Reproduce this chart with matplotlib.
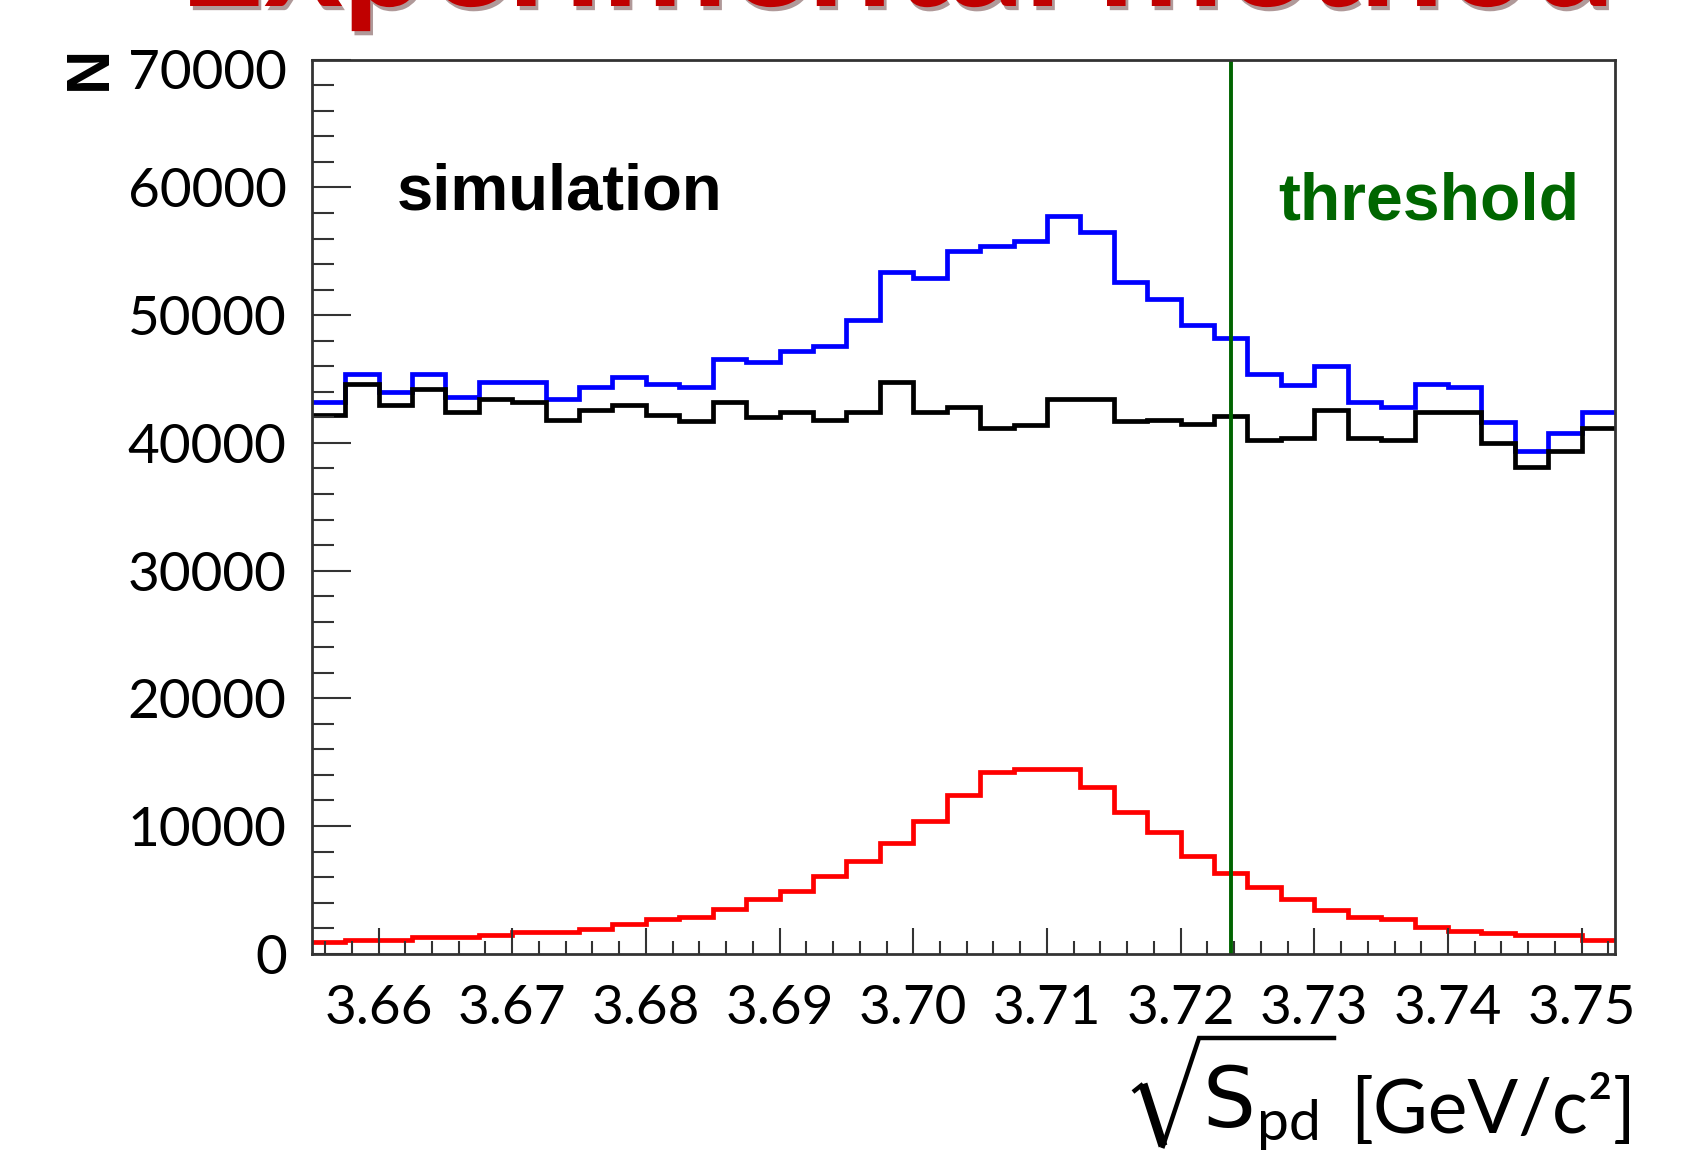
import numpy as np
import matplotlib
matplotlib.use("Agg")
import matplotlib.pyplot as plt
from matplotlib.ticker import MultipleLocator, FormatStrFormatter
from matplotlib.lines import Line2D
from matplotlib.transforms import ScaledTranslation
import matplotlib.patheffects as pe

# plot configuration
plt.rcParams['font.family'] = ['Lato', 'DejaVu Sans']

# histogram binning: sqrt(s_pd) in GeV/c^2
bin_lo = 3.655
bin_width = 0.0025
n_bins = 39

# counts per bin (thousands)
total = [43.2, 45.4, 44.0, 45.4, 43.6, 44.8, 44.8, 43.4, 44.4, 45.2,
         44.6, 44.4, 46.6, 46.3, 47.2, 47.6, 49.6, 53.4, 52.9, 55.0,
         55.4, 55.8, 57.8, 56.5, 52.6, 51.3, 49.2, 48.2, 45.4, 44.5,
         46.0, 43.2, 42.8, 44.6, 44.4, 41.6, 39.4, 40.8, 42.4]
background = [42.2, 44.6, 43.0, 44.2, 42.4, 43.4, 43.2, 41.8, 42.6, 43.0,
              42.2, 41.7, 43.2, 42.0, 42.4, 41.8, 42.4, 44.8, 42.4, 42.8,
              41.2, 41.4, 43.4, 43.4, 41.7, 41.8, 41.5, 42.1, 40.2, 40.4,
              42.6, 40.4, 40.2, 42.4, 42.4, 40.0, 38.1, 39.4, 41.2]
signal = [0.92, 1.1, 1.1, 1.3, 1.3, 1.5, 1.7, 1.7, 1.9, 2.3,
          2.7, 2.9, 3.5, 4.3, 4.9, 6.1, 7.3, 8.7, 10.4, 12.4,
          14.2, 14.5, 14.5, 13.05, 11.1, 9.5, 7.65, 6.3, 5.2, 4.25,
          3.45, 2.9, 2.7, 2.1, 1.8, 1.6, 1.5, 1.5, 1.05]
threshold = 3.7238

edges = bin_lo + bin_width * np.arange(n_bins + 1)
total = np.array(total) * 1000
background = np.array(background) * 1000
signal = np.array(signal) * 1000

W, H = 1684, 1152
fig = plt.figure(figsize=(W / 100, H / 100), dpi=100)
ax = fig.add_axes([0.1851, 0.1721, 0.7740, 0.7760])

def px(x, y):
    # slide pixel (from top-left) -> figure fraction
    return x / W, 1 - y / H

ax.stairs(total, edges, baseline=None, color='#0000ff', lw=3.4)
ax.stairs(background, edges, baseline=None, color='black', lw=3.4)
ax.stairs(signal, edges, baseline=None, color='#ff0000', lw=3.4)
ax.axvline(threshold, color='#006400', lw=2.8)

ax.set_xlim(edges[0], edges[-1])
ax.set_ylim(0, 70000)

ax.xaxis.set_major_locator(MultipleLocator(0.01))
ax.xaxis.set_minor_locator(MultipleLocator(0.002))
ax.xaxis.set_major_formatter(FormatStrFormatter('%.2f'))
ax.yaxis.set_major_locator(MultipleLocator(10000))
ax.yaxis.set_minor_locator(MultipleLocator(2000))
ax.yaxis.set_major_formatter(FormatStrFormatter('%d'))

ax.tick_params(axis='both', which='both', direction='in', color='#333333',
               width=1.5, labelsize=39.5, top=False, right=False)
ax.tick_params(axis='x', which='major', length=19, pad=22)
ax.tick_params(axis='x', which='minor', length=9.5)
ax.tick_params(axis='y', which='major', length=28, pad=18)
ax.tick_params(axis='y', which='minor', length=16)
for s in ax.spines.values():
    s.set_color('#333333')
    s.set_linewidth(2)

ax.text(0.0655, 0.833, 'simulation', transform=ax.transAxes,
        family='Liberation Sans', weight='bold', fontsize=47,
        ha='left', va='baseline', color='black')
ax.text(0.7414, 0.821, 'threshold', transform=ax.transAxes,
        family='Liberation Sans', weight='bold', fontsize=47.5,
        ha='left', va='baseline', color='#006600')

# y title
fig.text(*px(90, 68), 'N', rotation=90, family='Liberation Sans',
         weight='bold', fontsize=44, ha='center', va='center')

# x title: sqrt(S_pd) [GeV/c^2], radical drawn by hand like on the slide
fig.add_artist(Line2D([1133 / W, 1143 / W], [1 - 1092 / H, 1 - 1084 / H],
                      color='black', lw=3.2, solid_capstyle='butt'))
fig.add_artist(Line2D([1143 / W, 1163 / W], [1 - 1084 / H, 1 - 1146 / H],
                      color='black', lw=6.5, solid_capstyle='butt'))
fig.add_artist(Line2D([1163 / W, 1199 / W, 1334 / W],
                      [1 - 1146 / H, 1 - 1038 / H, 1 - 1038 / H],
                      color='black', lw=3.2, solid_joinstyle='miter'))
fig.text(*px(1203, 1127), 'S', family='DejaVu Sans', fontsize=60,
         ha='left', va='baseline')
fig.text(*px(1257, 1140), 'pd', fontsize=41, ha='left', va='baseline')
fig.text(*px(1636, 1133), '[GeV/c\u00b2]', fontsize=54, ha='right',
         va='baseline')

# slide title, mostly cut off at the top
fig.text(*px(178, 6), 'Experimental method', fontsize=108,
         weight='bold', color='#c00000', ha='left', va='baseline',
         path_effects=[pe.withSimplePatchShadow(offset=(2, -3), alpha=0.4)])

# the top label sits a little low on the slide
fig.canvas.draw()
for t in ax.yaxis.get_major_ticks():
    if abs(t.get_loc() - 70000) < 1:
        t.label1.set_transform(t.label1.get_transform() +
                               ScaledTranslation(0, -0.09, fig.dpi_scale_trans))

fig.savefig('out.png', dpi=100)
